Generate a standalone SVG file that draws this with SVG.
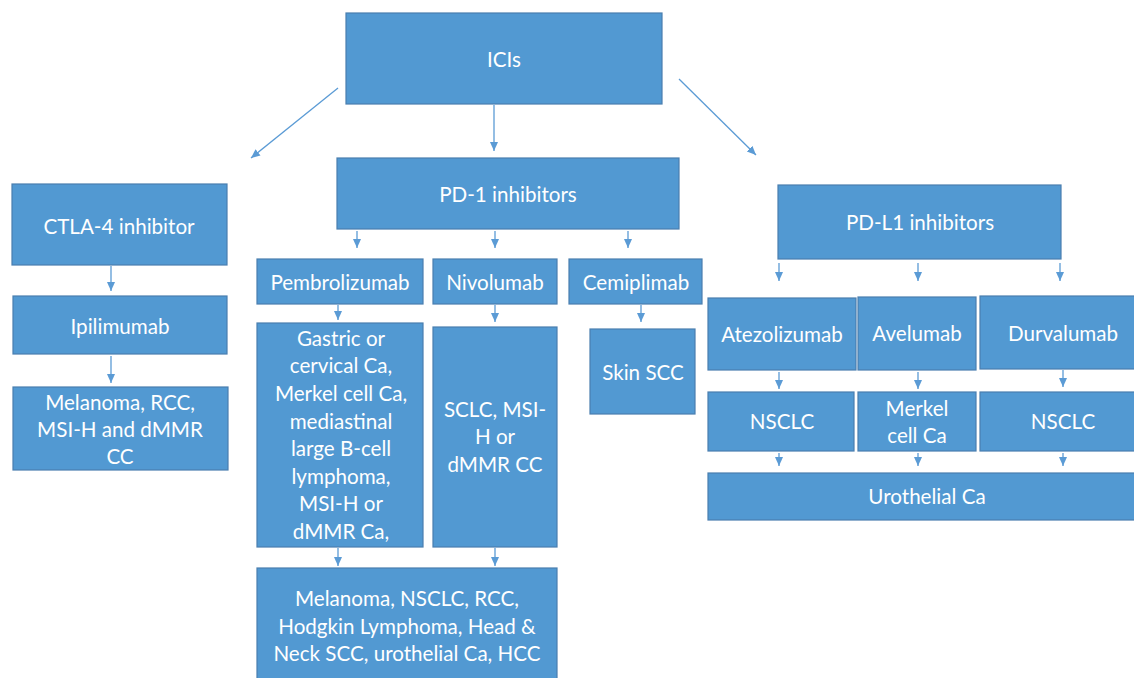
<svg xmlns="http://www.w3.org/2000/svg" width="1134" height="678" viewBox="0 0 1134 678">
<defs>
<style>
.box{fill:#5299d2;stroke:#4a7eaf;stroke-width:1.2}
.t{font-family:Lato,"Open Sans",sans-serif;font-size:20.6px;fill:#ffffff;text-anchor:middle}
.c{stroke:#5b9bd5;stroke-width:1.3;fill:none;marker-end:url(#ah)}
</style>
<marker id="ah" markerUnits="userSpaceOnUse" markerWidth="10" markerHeight="10" viewBox="0 0 10 10" refX="9" refY="5" orient="auto">
<path d="M0,1 L9,5 L0,9 Z" fill="#5b9bd5"/>
</marker>
</defs>
<rect width="1134" height="678" fill="#ffffff"/>
<g id="connectors">
<line class="c" x1="338" y1="88" x2="251" y2="158"/>
<line class="c" x1="494" y1="105" x2="494" y2="151"/>
<line class="c" x1="679" y1="79" x2="756" y2="155"/>
<line class="c" x1="111" y1="266" x2="111" y2="291"/>
<line class="c" x1="111" y1="356" x2="111" y2="383"/>
<line class="c" x1="357" y1="231" x2="357" y2="248"/>
<line class="c" x1="495" y1="231" x2="495" y2="248"/>
<line class="c" x1="628" y1="231" x2="628" y2="248"/>
<line class="c" x1="338" y1="305" x2="338" y2="320"/>
<line class="c" x1="495" y1="305" x2="495" y2="322"/>
<line class="c" x1="641" y1="305" x2="641" y2="322"/>
<line class="c" x1="338" y1="548" x2="338" y2="566"/>
<line class="c" x1="495" y1="548" x2="495" y2="566"/>
<line class="c" x1="779" y1="263" x2="779" y2="281"/>
<line class="c" x1="918" y1="263" x2="918" y2="281"/>
<line class="c" x1="1060" y1="263" x2="1060" y2="281"/>
<line class="c" x1="779" y1="372" x2="779" y2="389"/>
<line class="c" x1="918" y1="372" x2="918" y2="389"/>
<line class="c" x1="1063" y1="370" x2="1063" y2="387"/>
<line class="c" x1="779" y1="453" x2="779" y2="466"/>
<line class="c" x1="918" y1="453" x2="918" y2="466"/>
<line class="c" x1="1063" y1="453" x2="1063" y2="466"/>
</g>
<g id="icis"><rect class="box" x="346" y="13" width="316" height="91"/><text class="t" x="504" y="67">ICIs</text></g>
<g id="ctla4"><rect class="box" x="12" y="184" width="215" height="81"/><text class="t" x="119" y="234">CTLA-4 inhibitor</text></g>
<g id="ipilimumab"><rect class="box" x="13" y="296" width="214" height="58"/><text class="t" x="120" y="334">Ipilimumab</text></g>
<g id="ipi-indications"><rect class="box" x="13" y="387" width="215" height="83"/><text class="t" x="120" y="410">Melanoma, RCC,</text><text class="t" x="120" y="437">MSI-H and dMMR</text><text class="t" x="120" y="464">CC</text></g>
<g id="pd1"><rect class="box" x="337" y="158" width="342" height="71"/><text class="t" x="508" y="202">PD-1 inhibitors</text></g>
<g id="pembrolizumab"><rect class="box" x="257" y="259" width="166" height="45"/><text class="t" x="340" y="290">Pembrolizumab</text></g>
<g id="nivolumab"><rect class="box" x="433" y="259" width="124" height="45"/><text class="t" x="495" y="290">Nivolumab</text></g>
<g id="cemiplimab"><rect class="box" x="569" y="259" width="133" height="45"/><text class="t" x="636" y="290">Cemiplimab</text></g>
<g id="pembro-indications"><rect class="box" x="257" y="323" width="166" height="224"/>
<text class="t" x="341" y="346">Gastric or</text><text class="t" x="341" y="373">cervical Ca,</text><text class="t" x="341" y="401">Merkel cell Ca,</text><text class="t" x="341" y="429">mediastinal</text><text class="t" x="341" y="456">large B-cell</text><text class="t" x="341" y="484">lymphoma,</text><text class="t" x="341" y="511">MSI-H or</text><text class="t" x="341" y="539">dMMR Ca,</text></g>
<g id="nivo-indications"><rect class="box" x="433" y="327" width="124" height="220"/><text class="t" x="495" y="417">SCLC, MSI-</text><text class="t" x="495" y="444">H or</text><text class="t" x="495" y="472">dMMR CC</text></g>
<g id="cemi-indications"><rect class="box" x="590" y="329" width="105" height="85"/><text class="t" x="643" y="380">Skin SCC</text></g>
<g id="pd1-shared"><rect class="box" x="257" y="568" width="300" height="122"/><text class="t" x="407" y="606">Melanoma, NSCLC, RCC,</text><text class="t" x="407" y="634">Hodgkin Lymphoma, Head &amp;</text><text class="t" x="407" y="661">Neck SCC, urothelial Ca, HCC</text></g>
<g id="pdl1"><rect class="box" x="778" y="185" width="283" height="74"/><text class="t" x="920" y="230">PD-L1 inhibitors</text></g>
<g id="atezolizumab"><rect class="box" x="708" y="298" width="148" height="72"/><text class="t" x="782" y="342">Atezolizumab</text></g>
<g id="avelumab"><rect class="box" x="858" y="297" width="118" height="73"/><text class="t" x="917" y="341">Avelumab</text></g>
<g id="durvalumab"><rect class="box" x="980" y="296" width="166" height="73"/><text class="t" x="1063" y="341">Durvalumab</text></g>
<g id="atezo-nsclc"><rect class="box" x="708" y="392" width="146" height="59"/><text class="t" x="782" y="429">NSCLC</text></g>
<g id="avel-merkel"><rect class="box" x="858" y="392" width="118" height="59"/><text class="t" x="917" y="416">Merkel</text><text class="t" x="917" y="443">cell Ca</text></g>
<g id="durva-nsclc"><rect class="box" x="980" y="392" width="166" height="59"/><text class="t" x="1063" y="429">NSCLC</text></g>
<g id="urothelial"><rect class="box" x="708" y="473" width="438" height="47"/><text class="t" x="927" y="504">Urothelial Ca</text></g>
</svg>
